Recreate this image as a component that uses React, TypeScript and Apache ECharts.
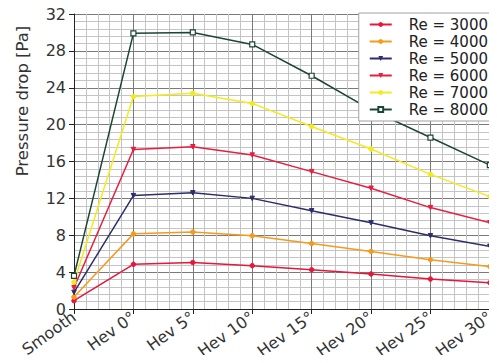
import React, { useEffect, useRef } from "react";
import * as echarts from "echarts";

const categories = ["Smooth", "Hev 0°", "Hev 5°", "Hev 10°", "Hev 15°", "Hev 20°", "Hev 25°", "Hev 30°"];
const re3000 = [0.9, 4.85, 5.05, 4.7, 4.25, 3.8, 3.25, 2.85];
const re4000 = [1.3, 8.15, 8.35, 7.95, 7.1, 6.25, 5.35, 4.6];
const re5000 = [1.8, 12.3, 12.6, 12.0, 10.65, 9.35, 7.95, 6.8];
const re6000 = [2.3, 17.3, 17.6, 16.7, 14.9, 13.1, 11.0, 9.35];
const re7000 = [2.9, 23.05, 23.4, 22.3, 19.8, 17.35, 14.6, 12.2];
const re8000 = [3.6, 29.9, 30.0, 28.7, 25.3, 21.6, 18.6, 15.6];
const yTicks = [0, 4, 8, 12, 16, 20, 24, 28, 32];

const seriesDefs = [
  { name: "Re = 3000", data: re3000, color: "#e5173a", symbol: "circle", hollow: false },
  { name: "Re = 4000", data: re4000, color: "#f59a1b", symbol: "circle", hollow: false },
  { name: "Re = 5000", data: re5000, color: "#2c2d6b", symbol: "triangle", hollow: false },
  { name: "Re = 6000", data: re6000, color: "#e61e3f", symbol: "triangle", hollow: false },
  { name: "Re = 7000", data: re7000, color: "#f4ea1e", symbol: "circle", hollow: false },
  { name: "Re = 8000", data: re8000, color: "#1c4634", symbol: "rect", hollow: true },
];

export default function App() {
  const ref = useRef<HTMLDivElement>(null);
  useEffect(() => {
    if (!ref.current) return;
    const chart = echarts.init(ref.current, null, { renderer: "svg" });
    const font = "DejaVu Sans";
    chart.setOption({
      animation: false,
      backgroundColor: "#ffffff",
      grid: { left: 74, top: 14, right: 2, bottom: 54, containLabel: false },
      xAxis: {
        type: "value",
        min: 0,
        max: categories.length - 1,
        interval: 1,
        axisLine: { show: true, lineStyle: { color: "#222", width: 1 } },
        axisTick: { show: true, length: 5, lineStyle: { color: "#222" } },
        axisLabel: {
          rotate: 36,
          fontFamily: font,
          fontSize: 16,
          color: "#333",
          margin: 6,
          formatter: (v: number) => categories[Math.round(v)] ?? "",
        },
        splitLine: { show: true, lineStyle: { color: "#7a7a7a", width: 1 } },
        minorTick: { show: false, splitNumber: 5 },
        minorSplitLine: { show: true, lineStyle: { color: "#c4c4c4", width: 1 } },
      },
      yAxis: {
        type: "value",
        min: yTicks[0],
        max: yTicks[yTicks.length - 1],
        interval: 4,
        axisLine: { show: true, lineStyle: { color: "#222", width: 1 } },
        axisTick: { show: true, length: 5, lineStyle: { color: "#222" } },
        axisLabel: { fontFamily: font, fontSize: 16, color: "#333", margin: 8 },
        splitLine: { show: true, lineStyle: { color: "#7a7a7a", width: 1 } },
        minorTick: { show: false, splitNumber: 5 },
        minorSplitLine: { show: true, lineStyle: { color: "#c4c4c4", width: 1 } },
      },
      legend: {
        right: -3,
        top: 13,
        orient: "vertical",
        backgroundColor: "#ffffff",
        borderColor: "#a0a0a0",
        borderWidth: 1,
        borderRadius: 0,
        padding: [3, 12, 3, 10],
        itemGap: 0,
        itemWidth: 22,
        itemHeight: 6,
        textStyle: { fontFamily: font, fontSize: 15, color: "#222", lineHeight: 17, padding: [0, 0, 0, 12] },
        data: seriesDefs.map((s) => s.name),
      },
      graphic: [
        {
          type: "text",
          x: 22,
          y: 101,
          rotation: Math.PI / 2,
          style: {
            text: "Pressure drop [Pa]",
            fontFamily: font,
            fontSize: 16.5,
            fill: "#333",
            align: "center",
            verticalAlign: "middle",
          },
        },
      ],
      series: seriesDefs.map((s) => ({
        name: s.name,
        type: "line",
        data: s.data.map((v, i) => [i, v]),
        symbol: s.symbol,
        symbolRotate: s.symbol === "triangle" ? 180 : 0,
        symbolSize: s.symbol === "rect" ? 5 : 4.5,
        showSymbol: true,
        lineStyle: { color: s.color, width: 1.5 },
        itemStyle: s.hollow
          ? { color: "#ffffff", borderColor: s.color, borderWidth: 1.2 }
          : { color: s.color, borderColor: s.color },
        color: s.color,
        z: 3,
      })),
    });
    return () => chart.dispose();
  }, []);
  return <div ref={ref} style={{ width: 497, height: 363, margin: -8 }} />;
}
